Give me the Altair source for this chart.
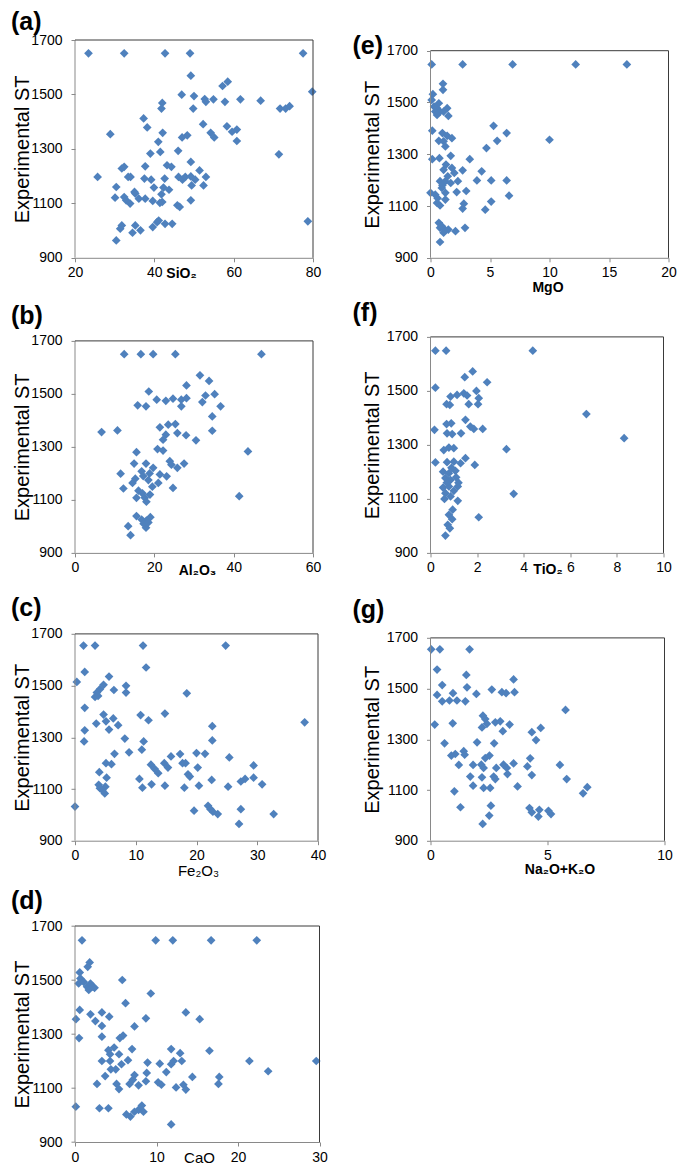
import altair as alt
import pandas as pd

# ---------------- data ----------------
sio2_x = [23.4, 32.4, 42.7, 49.0, 77.5, 49.2, 57.2, 58.5, 79.8, 46.9, 50.0, 42.0, 41.8, 49.8,
          52.7, 53.0, 54.9, 57.8, 61.7, 66.8, 71.7, 73.1, 74.1, 37.3, 38.2, 28.9, 42.1, 41.0,
          52.3, 54.2, 55.1, 58.3, 59.6, 60.8, 60.8, 47.0, 48.3, 39.0, 41.5, 46.0, 71.4, 49.2,
          25.7, 30.4, 31.8, 32.4, 33.4, 34.0, 37.7, 37.5, 39.2, 39.9, 42.3, 42.6, 43.2, 44.3,
          43.7, 46.1, 47.1, 47.8, 49.2, 50.3, 49.4, 51.4, 53.0, 52.4, 30.1, 32.4, 32.9, 33.9,
          35.0, 35.2, 36.1, 37.7, 39.6, 41.4, 42.0, 41.8, 45.8, 46.4, 49.2, 31.4, 31.8, 34.5,
          35.2, 36.5, 39.6, 40.7, 41.1, 42.7, 44.5, 30.4, 78.7]
sio2_y = [1651, 1651, 1651, 1651, 1651, 1569, 1531, 1547, 1510, 1499, 1494, 1469, 1448, 1448,
          1483, 1473, 1482, 1473, 1482, 1477, 1448, 1448, 1457, 1412, 1379, 1354, 1359, 1326,
          1391, 1359, 1342, 1383, 1363, 1371, 1329, 1342, 1350, 1283, 1289, 1293, 1280, 1252,
          1197, 1160, 1228, 1234, 1197, 1197, 1236, 1191, 1187, 1158, 1158, 1191, 1240, 1234,
          1150, 1197, 1187, 1197, 1199, 1187, 1166, 1221, 1197, 1166, 1121, 1123, 1111, 1099,
          1142, 1136, 1117, 1117, 1109, 1102, 1105, 1133, 1093, 1087, 1111, 1007, 1019, 992,
          1019, 1001, 1013, 1031, 1037, 1025, 1025, 964, 1034]

mgo_x = [0.1, 2.7, 6.9, 12.2, 16.5, 1.05, 1.05, 0.2, 0.1, 0.3, 0.55, 0.7, 0.4, 0.8, 0.55,
         1.4, 1.5, 1.1, 5.3, 0.15, 1.0, 1.4, 1.8, 0.7, 1.1, 1.25, 6.4, 5.6, 10.0, 4.7,
         0.15, 0.75, 1.7, 3.3, 1.1, 1.8, 2.0, 1.45, 2.7, 4.3, 0.8, 1.25, 1.7, 2.3, 3.9,
         5.1, 6.4, 0.95, 1.25, 0.0, 0.4, 2.2, 3.0, 6.6, 0.55, 0.8, 1.25, 2.8, 2.7, 5.1,
         4.6, 0.7, 0.8, 1.2, 1.1, 1.5, 2.1, 2.9, 0.8, 0.95, 1.3, 1.0, 0.6]
mgo_y = [1647, 1647, 1647, 1647, 1647, 1572, 1549, 1532, 1510, 1484, 1478, 1497, 1465, 1465, 1452,
         1478, 1448, 1465, 1410, 1391, 1382, 1371, 1362, 1352, 1350, 1330, 1382, 1352, 1356, 1324,
         1281, 1285, 1294, 1281, 1240, 1247, 1228, 1215, 1238, 1234, 1196, 1196, 1189, 1196, 1199,
         1199, 1199, 1170, 1151, 1151, 1144, 1154, 1158, 1140, 1112, 1102, 1125, 1109, 1090, 1117,
         1086, 1035, 1016, 1009, 997, 1009, 1003, 1016, 961, 1022, 1260, 1180, 1130]

al2o3_x = [12.4, 16.6, 19.7, 25.3, 47.0, 31.5, 33.8, 28.1, 18.6, 35.2, 32.9, 32.1, 36.7, 15.8,
           17.9, 20.6, 22.9, 24.7, 26.8, 28.1, 26.8, 34.6, 6.7, 10.7, 21.4, 23.5, 25.3, 25.8,
           28.0, 22.9, 22.2, 30.5, 34.6, 15.5, 20.8, 22.2, 43.6, 14.9, 17.9, 11.5, 23.9, 24.3,
           27.5, 25.8, 16.8, 19.7, 21.4, 23.1, 21.0, 12.2, 14.5, 24.7, 15.5, 17.6, 18.9, 18.0,
           41.4, 15.5, 16.8, 18.0, 13.4, 17.9, 14.0, 17.2, 18.5, 19.5, 16.0, 17.0, 18.8, 15.2,
           19.0, 17.3, 18.5]
al2o3_y = [1650, 1650, 1650, 1650, 1650, 1570, 1549, 1532, 1509, 1499, 1494, 1469, 1453, 1457,
           1453, 1478, 1474, 1482, 1478, 1484, 1453, 1415, 1356, 1362, 1374, 1384, 1386, 1352,
           1344, 1346, 1327, 1325, 1361, 1280, 1292, 1286, 1283, 1237, 1237, 1199, 1246, 1233,
           1237, 1221, 1208, 1221, 1196, 1189, 1164, 1143, 1164, 1145, 1108, 1108, 1120, 1093,
           1114, 1039, 1026, 1022, 1001, 995, 967, 1190, 1175, 1150, 1135, 1125, 1200, 1180,
           1035, 1010, 1015]

tio2_x = [0.21, 0.67, 4.39, 1.81, 1.47, 2.43, 0.21, 1.97, 0.86, 1.14, 1.43, 1.57, 2.07, 0.69,
          0.83, 1.64, 2.04, 6.69, 1.5, 0.69, 0.89, 1.71, 1.86, 2.24, 0.17, 0.71, 0.93, 1.31,
          8.31, 0.57, 0.79, 1.0, 3.26, 0.21, 0.71, 1.0, 1.29, 1.5, 1.9, 0.54, 0.79, 1.07,
          0.64, 0.86, 0.54, 0.79, 1.17, 0.64, 0.86, 1.17, 3.57, 0.79, 0.93, 0.74, 0.83, 2.07,
          0.64, 0.9, 1.1, 0.7, 1.0, 0.6, 0.95, 1.2]
tio2_y = [1649, 1649, 1649, 1572, 1551, 1532, 1512, 1500, 1479, 1485, 1491, 1483, 1473, 1451,
          1448, 1451, 1451, 1414, 1393, 1377, 1380, 1368, 1359, 1359, 1356, 1343, 1340, 1343,
          1325, 1281, 1290, 1288, 1284, 1235, 1236, 1238, 1232, 1251, 1226, 1201, 1195, 1204,
          1177, 1170, 1142, 1146, 1146, 1121, 1109, 1093, 1119, 1041, 1025, 1004, 991, 1032,
          964, 1215, 1180, 1160, 1130, 1100, 1060, 1160]

fe2o3_x = [1.4, 3.3, 11.2, 24.8, 1.6, 11.7, 5.6, 0.3, 4.7, 4.1, 3.6, 3.3, 3.8, 6.4, 8.4, 8.4,
           18.4, 1.6, 4.7, 6.3, 5.1, 5.6, 7.1, 3.5, 10.8, 12.1, 14.8, 1.6, 1.5, 8.2, 11.3, 22.6,
           22.6, 37.8, 11.0, 6.5, 8.9, 5.1, 6.0, 4.0, 5.2, 5.0, 3.9, 4.1, 4.5, 4.9, 10.6, 11.1,
           12.5, 13.1, 13.7, 12.6, 14.7, 15.3, 15.8, 17.3, 17.7, 18.2, 18.6, 18.9, 14.8, 18.0,
           20.0, 21.4, 20.2, 20.4, 22.5, 25.4, 25.2, 28.0, 27.3, 29.4, 29.4, 30.8, 0.0, 19.6,
           21.9, 22.3, 22.7, 23.5, 27.3, 32.7, 27.0]
fe2o3_y = [1655, 1655, 1655, 1655, 1553, 1570, 1535, 1514, 1503, 1486, 1473, 1456, 1460, 1483,
           1499, 1473, 1470, 1414, 1388, 1373, 1362, 1330, 1347, 1353, 1386, 1366, 1392, 1327,
           1284, 1295, 1284, 1343, 1288, 1358, 1252, 1236, 1242, 1200, 1196, 1165, 1144, 1109,
           1116, 1103, 1096, 1083, 1139, 1105, 1194, 1178, 1161, 1118, 1200, 1183, 1226, 1235,
           1200, 1200, 1157, 1148, 1113, 1105, 1239, 1236, 1183, 1113, 1135, 1222, 1109, 1139,
           1129, 1191, 1144, 1118, 1032, 1016, 1035, 1022, 1012, 1003, 1022, 1003, 965]

alk_x = [0.03, 0.4, 1.67, 0.28, 1.53, 3.55, 0.5, 1.56, 2.62, 0.28, 0.96, 1.96, 3.05, 3.23, 3.59,
         0.5, 0.81, 1.13, 1.49, 5.77, 2.24, 2.34, 2.2, 2.41, 2.77, 2.98, 3.38, 3.09, 0.18, 0.95,
         4.33, 4.71, 4.51, 0.6, 1.99, 2.72, 0.89, 1.06, 1.42, 1.46, 1.21, 1.82, 2.17, 2.34, 2.52,
         2.27, 2.81, 3.12, 3.26, 3.55, 3.29, 4.14, 4.26, 4.33, 5.53, 5.82, 1.7, 2.2, 2.7, 1.82,
         2.27, 2.55, 2.77, 3.72, 1.02, 6.52, 6.7, 1.28, 2.58, 2.51, 2.23, 4.23, 4.33, 4.65, 4.61,
         5.04, 5.15]
alk_y = [1655, 1655, 1655, 1575, 1554, 1536, 1514, 1505, 1496, 1475, 1482, 1479, 1486, 1482, 1486,
         1450, 1453, 1453, 1450, 1416, 1393, 1380, 1347, 1361, 1367, 1371, 1358, 1332, 1358, 1363,
         1328, 1345, 1297, 1284, 1288, 1284, 1236, 1242, 1253, 1239, 1199, 1199, 1200, 1226, 1236,
         1187, 1187, 1200, 1187, 1205, 1163, 1193, 1225, 1159, 1199, 1143, 1153, 1150, 1153, 1117,
         1108, 1108, 1143, 1114, 1095, 1087, 1111, 1032, 1038, 999, 966, 1029, 1012, 1022, 995,
         1018, 1005]

cao_x = [0.86, 9.9, 12.0, 16.7, 22.3, 1.8, 1.56, 0.58, 0.66, 0.45, 1.07, 1.48, 1.69, 1.9, 2.2,
         2.4, 5.8, 6.2, 9.3, 0.58, 0.12, 1.9, 2.5, 3.3, 4.2, 13.6, 15.3, 3.3, 7.3, 8.7,
         0.5, 3.3, 5.5, 5.9, 4.1, 4.8, 4.3, 7.0, 5.4, 3.3, 4.3, 6.5, 4.4, 5.0, 5.7,
         3.7, 2.7, 5.1, 5.4, 6.7, 7.1, 7.3, 7.8, 8.7, 8.8, 8.9, 10.4, 10.2, 10.6, 11.2,
         11.8, 11.8, 12.1, 12.9, 13.1, 12.4, 13.3, 13.6, 14.4, 16.5, 17.7, 17.6, 21.4, 23.7, 29.6,
         0.1, 3.0, 4.1, 6.3, 6.8, 7.3, 7.8, 8.2, 8.4, 11.8]
cao_y = [1647, 1647, 1647, 1647, 1647, 1565, 1549, 1528, 1506, 1487, 1493, 1475, 1463, 1487, 1475,
         1471, 1500, 1414, 1450, 1389, 1355, 1373, 1348, 1380, 1364, 1380, 1355, 1330, 1328, 1358,
         1285, 1290, 1285, 1294, 1240, 1250, 1225, 1244, 1225, 1200, 1200, 1203, 1169, 1169, 1188,
         1144, 1115, 1115, 1096, 1115, 1131, 1148, 1110, 1125, 1156, 1194, 1190, 1121, 1112, 1159,
         1244, 1188, 1200, 1229, 1200, 1102, 1112, 1094, 1141, 1238, 1141, 1115, 1200, 1162, 1200,
         1031, 1025, 1025, 1002, 994, 1012, 1019, 1035, 1012, 965]

Y_TICKS = [900, 1100, 1300, 1500, 1700]
FONT = "Liberation Sans"
BLUE = "#4F81BD"
AXIS_GRAY = "#898989"
FRAME = "#3a3a3a"


def panel(xs, ys, xdom, xticks, xtitle, bold, label, top, y1700, bottom, width,
          tx, ty, ytx, ldx, ldy, tsize=14):
    h = bottom - top
    ytop = 900 + 800 * h / (bottom - y1700)
    xscale = alt.Scale(domain=xdom, nice=False, zero=False)
    yscale = alt.Scale(domain=[900, ytop], nice=False, zero=False)
    df = pd.DataFrame({"x": xs, "y": ys})
    pts = alt.Chart(df).mark_point(
        shape="diamond", filled=True, size=76, color=BLUE, opacity=1, strokeWidth=0
    ).encode(
        x=alt.X("x:Q", scale=xscale, axis=alt.Axis(
            values=xticks, format="d", title=xtitle, titleX=tx, titleY=ty,
            titleAlign="center", titleBaseline="middle", titleFontSize=tsize,
            titleFontWeight="bold" if bold else "normal", labelPadding=4)),
        y=alt.Y("y:Q", scale=yscale, axis=alt.Axis(
            values=Y_TICKS, format="d", title="Experimental ST", titleX=ytx,
            titleY=(y1700 + bottom) / 2 - top, titleAngle=270, titleAlign="center",
            titleBaseline="bottom", titleFontSize=20, titleFontWeight="normal",
            domain=False, labelPadding=9)),
    )
    fr = pd.DataFrame({
        "x": [xdom[0], xdom[1], xdom[0]],
        "x2": [xdom[1], xdom[1], xdom[0]],
        "y": [1700, 900, 900],
        "y2": [1700, 1700, 1700],
        "c": [FRAME, FRAME, AXIS_GRAY],
    })
    rules = alt.Chart(fr).mark_rule(strokeWidth=1).encode(
        x="x:Q", x2="x2:Q", y="y:Q", y2="y2:Q", color=alt.Color("c:N", scale=None)
    )
    lab = alt.Chart(pd.DataFrame({"t": [label], "x": [xdom[0]], "y": [1700]})).mark_text(
        align="left", baseline="middle", fontSize=25, fontWeight="bold", font=FONT,
        color="black", dx=ldx, dy=ldy
    ).encode(x="x:Q", y="y:Q", text="t:N")
    return alt.layer(pts, rules, lab).properties(width=width, height=h)


pa = panel(sio2_x, sio2_y, [20, 80], [20, 40, 60, 80], "SiO₂", True, "(a)",
           40, 40, 257.8, 238, 106, 16, -43, -64, -18)
pe = panel(mgo_x, mgo_y, [0, 20], [0, 5, 10, 15, 20], "MgO", True, "(e)",
           40, 50.7, 257.8, 238, 117, 30, -48, -78, -5)
pb = panel(al2o3_x, al2o3_y, [0, 60], [0, 20, 40, 60], "Al₂O₃", True, "(b)",
           338.7, 342.7, 554.7, 238, 122, 18, -43, -64, -25)
pf = panel(tio2_x, tio2_y, [0, 10], [0, 2, 4, 6, 8, 10], "TiO₂", True, "(f)",
           338.7, 338.7, 554.7, 233, 117, 17, -48, -78, -24)
pc = panel(fe2o3_x, fe2o3_y, [0, 40], [0, 10, 20, 30, 40], "Fe₂O₃", False, "(c)",
           635.6, 636.7, 843.5, 243, 123, 30, -43, -64, -26, 15)
pg = panel(alk_x, alk_y, [0, 10], [0, 5, 10], "Na₂O+K₂O", True, "(g)",
           635.6, 640.7, 843.5, 234, 129, 29, -48, -78, -28)
pd_ = panel(cao_x, cao_y, [0, 30], [0, 10, 20, 30], "CaO", False, "(d)",
            924.4, 930.7, 1146.7, 244.5, 124, 15, -43, -64, -25, 15)

chart = alt.concat(
    pa, pe, pb, pf, pc, pg, pd_,
    columns=2,
    spacing={"row": 78.9, "column": 110.5},
    bounds="flush",
    align="each",
).properties(
    padding={"left": 3, "top": 2, "right": 0, "bottom": 0}
).configure_view(
    stroke=None
).configure_axis(
    labelFont=FONT, titleFont=FONT, labelFontSize=14, labelColor="black",
    titleColor="black", tickColor=AXIS_GRAY, domainColor=AXIS_GRAY, tickSize=4,
    grid=False, labelFlush=False, labelOverlap=False
)

chart.save("out.html", embed_options={"renderer": "svg", "actions": False})
